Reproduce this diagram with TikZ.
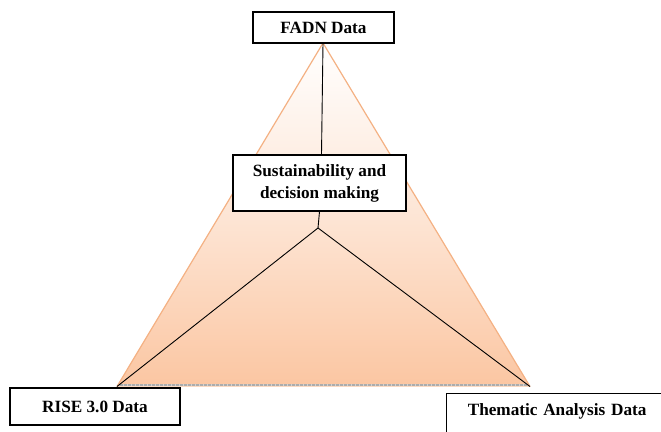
\documentclass[tikz,border=0pt]{standalone}
\usepackage{fontspec}
\setmainfont{Liberation Serif}
\begin{document}
\begin{tikzpicture}[x=1pt,y=-1pt,
  databox/.style={draw=black, line width=1.3pt, fill=white, inner sep=0pt,
    font=\fontsize{17.2}{22}\selectfont\bfseries, align=center},
  conn/.style={draw=black, line width=0.9pt}]
\useasboundingbox (0,0) rectangle (661,431);
\clip (0,0) rectangle (661,431);
\definecolor{peach}{RGB}{251,198,162}
\definecolor{triedge}{RGB}{244,177,131}
% coordinates
\coordinate (apex) at (323,43);
\coordinate (bl) at (117,386.5);
\coordinate (br) at (530,386.5);
\coordinate (jn) at (318,228);
% triangle
\shade[top color=white, bottom color=peach, middle color=peach!45] (apex) -- (br) -- (bl) -- cycle;
\draw[triedge, line width=1.2pt] (bl) -- (apex) -- (br);
\draw[gray!65, line width=2pt] ([xshift=2pt,yshift=1.5pt]bl) -- ([xshift=-3pt,yshift=1.5pt]br);
\draw[gray!35, line width=2pt, dash pattern=on 0.6pt off 3.4pt] ([xshift=2pt,yshift=1.5pt]bl) -- ([xshift=-3pt,yshift=1.5pt]br);
% boxes
\node[databox, minimum width=141pt, minimum height=31pt] (fadn) at (323.5,27.5) {FADN Data};
\node[databox, minimum width=173pt, minimum height=56pt] (sus) at (319.5,183) {Sustainability and\\decision making};
\node[databox, minimum width=170pt, minimum height=37pt] (rise) at (95,406.5) {RISE 3.0 Data};
\node[databox, anchor=north west, text width=221pt, text height=12pt, text depth=30pt, inner ysep=10pt] (them) at (446,393) {Thematic Analysis Data};
% connectors
\draw[conn] (apex) -- (sus.north -| 321.5,0);
\draw[conn] (sus.south) -- (jn);
\draw[conn] (jn) -- (bl);
\draw[conn] (jn) -- (br);
\end{tikzpicture}
\end{document}
